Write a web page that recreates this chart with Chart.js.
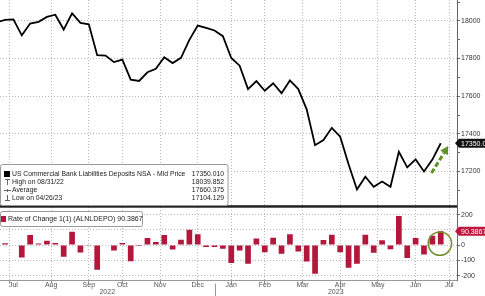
<!DOCTYPE html>
<html>
<head>
<meta charset="utf-8">
<script src="https://cdn.jsdelivr.net/npm/chart.js@4.4.0/dist/chart.umd.min.js"></script>
<style>
  html, body { margin: 0; padding: 0; background: #fff; }
  #wrap { width: 485px; height: 296px; }
</style>
</head>
<body>
<div id="wrap"><canvas id="chart" width="485" height="296"></canvas></div>
<script>
// weekly values, first one is week of 06/29/22 (index -1), last 07/05/23 (index 52)
const firstWeek = -1;
const deposits = [
  17993, 18005, 18008, 17923, 17986, 17995, 18021, 18033, 17954, 18039.852,
  17989, 17982, 17818, 17816, 17781, 17794, 17688, 17681, 17727, 17746,
  17807, 17776, 17804, 17899, 17975, 17963, 17949, 17919, 17803, 17762,
  17638, 17680, 17629, 17669, 17616, 17684, 17638, 17530, 17340, 17367,
  17432, 17385, 17238, 17104.129, 17172, 17119, 17147, 17119, 17305, 17222,
  17265, 17200, 17263, 17350.01,
];
// rate of change starts at index 0
const rateOfChange = [
  12, 4, -81, 66, 11, 28, 13, -77, 88, -48,
  -5, -162, -2, -35, 14, -106, -6, 46, 20, 66,
  -29, 35, 100, 72, -13, -13, -24, -118, -35, -123,
  44, -47, 48, -56, 72, -42, -108, -188, 33, 68,
  -47, -149, -123, 68, -51, 32, -27, 191, -84, 47,
  -61, 61, 90.3867,
];
// last week of each month (gridlines), month names sit between them
const monthEnds = [-1, 3, 8, 12, 16, 21, 25, 29, 33, 38, 42, 47, 51, 55];
const monthLabels = ["Jul", "Aug", "Sep", "Oct", "Nov", "Dec", "Jan", "Feb", "Mar", "Apr", "May", "Jun", "Jul"];
const yearLabels = ["2022", "2023"];
const yearBreak = 25;
const depositTicks = [17100, 17200, 17300, 17400, 17500, 17600, 17700, 17800, 17900, 18000, 18100];
const changeTicks = [-200, -100, 0, 100, 200];

const xMin = -0.6;
const xMax = 53.94;

const lineData = deposits.map((v, i) => ({ x: i + firstWeek, y: v }));
const barData = rateOfChange.map((v, i) => ({ x: i, y: v }));
const lastWeek = deposits.length - 1 + firstWeek;

Chart.defaults.font.family = '"Liberation Sans", Arial, sans-serif';
Chart.defaults.font.size = 7;
Chart.defaults.color = "#333";

const FONT = '6.8px "Liberation Sans", Arial, sans-serif';
const RED = "#b3173b";
const GREEN = "#5f9126";

function valueTag(ctx, x, y, text, bg) {
  ctx.fillStyle = bg;
  ctx.beginPath();
  ctx.moveTo(x - 2, y);
  ctx.lineTo(x + 2, y - 4.5);
  ctx.lineTo(486, y - 4.5);
  ctx.lineTo(486, y + 4.5);
  ctx.lineTo(x + 2, y + 4.5);
  ctx.closePath();
  ctx.fill();
  ctx.fillStyle = "#fff";
  ctx.textAlign = "left";
  ctx.fillText(text, x + 4, y + 0.5);
}

const decor = {
  id: "decor",
  afterDraw(chart) {
    const ctx = chart.ctx;
    const area = chart.chartArea;
    const x = chart.scales.x;
    const y = chart.scales.y;
    const y2 = chart.scales.y2;
    ctx.save();

    // panel separator
    ctx.fillStyle = "#222";
    ctx.fillRect(area.left, y.bottom - 1.5, area.right - area.left, 2.5);

    // year separator under the axis
    const xb = Math.round(x.getPixelForValue(yearBreak)) + 0.5;
    ctx.strokeStyle = "#999";
    ctx.lineWidth = 1;
    ctx.beginPath();
    ctx.moveTo(xb, area.bottom + 3);
    ctx.lineTo(xb, 296);
    ctx.stroke();

    ctx.font = FONT;
    ctx.textBaseline = "middle";

    // top legend
    ctx.fillStyle = "#fff";
    ctx.strokeStyle = "#9a9a9a";
    ctx.beginPath();
    ctx.roundRect(0.5, 164.5, 227.5, 41, 2);
    ctx.fill();
    ctx.stroke();
    ctx.fillStyle = "#000";
    ctx.fillRect(4, 171, 6, 6);
    ctx.strokeStyle = "#666";
    ctx.beginPath();
    ctx.moveTo(7.5, 179); ctx.lineTo(7.5, 185);
    ctx.moveTo(5, 179.5); ctx.lineTo(10, 179.5);
    ctx.moveTo(4, 190.5); ctx.lineTo(11, 190.5);
    ctx.moveTo(7.5, 189); ctx.lineTo(7.5, 192);
    ctx.moveTo(7.5, 195); ctx.lineTo(7.5, 201);
    ctx.moveTo(5, 200.5); ctx.lineTo(10, 200.5);
    ctx.stroke();
    const rows = [
      ["US Commercial Bank Liabilities Deposits NSA - Mid Price", "17350.010", 174],
      ["High on 08/31/22", "18039.852", 182],
      ["Average", "17660.375", 190],
      ["Low on 04/26/23", "17104.129", 198],
    ];
    ctx.fillStyle = "#222";
    rows.forEach(([label, value, ty]) => {
      ctx.textAlign = "left";
      ctx.fillText(label, 12, ty);
      ctx.textAlign = "right";
      ctx.fillText(value, 224, ty);
    });

    // bottom legend
    ctx.fillStyle = "#fff";
    ctx.strokeStyle = "#9a9a9a";
    ctx.beginPath();
    ctx.roundRect(0.5, 211.5, 142, 15, 2);
    ctx.fill();
    ctx.stroke();
    ctx.fillStyle = RED;
    ctx.fillRect(1, 216, 5, 6);
    ctx.fillStyle = "#222";
    ctx.textAlign = "left";
    ctx.font = '7px "Liberation Sans", Arial, sans-serif';
    ctx.fillText("Rate of Change 1(1) (ALNLDEPO) 90.3867", 8, 219.5);

    // last value tags
    const lastY = deposits[deposits.length - 1];
    const lastBar = rateOfChange[rateOfChange.length - 1];
    valueTag(ctx, area.right, y.getPixelForValue(lastY), "17350.0", "#111");
    valueTag(ctx, area.right, y2.getPixelForValue(lastBar), "90.3867", "#c0163d");

    // green dashed arrow
    const ax0 = x.getPixelForValue(50.9), ay0 = y.getPixelForValue(17192);
    const ax1 = x.getPixelForValue(52.9), ay1 = y.getPixelForValue(17335);
    const ang = Math.atan2(ay1 - ay0, ax1 - ax0);
    const head = 8;
    ctx.strokeStyle = GREEN;
    ctx.lineWidth = 3;
    ctx.setLineDash([5, 2.5]);
    ctx.beginPath();
    ctx.moveTo(ax0, ay0);
    ctx.lineTo(ax1 - head * Math.cos(ang), ay1 - head * Math.sin(ang));
    ctx.stroke();
    ctx.setLineDash([]);
    ctx.fillStyle = GREEN;
    ctx.beginPath();
    ctx.moveTo(ax1, ay1);
    ctx.lineTo(ax1 - head * Math.cos(ang) + 4.5 * Math.sin(ang), ay1 - head * Math.sin(ang) - 4.5 * Math.cos(ang));
    ctx.lineTo(ax1 - head * Math.cos(ang) - 4.5 * Math.sin(ang), ay1 - head * Math.sin(ang) + 4.5 * Math.cos(ang));
    ctx.closePath();
    ctx.fill();

    // circle round the last two bars
    ctx.strokeStyle = "#6f8f2a";
    ctx.lineWidth = 1.5;
    ctx.beginPath();
    ctx.arc(x.getPixelForValue(lastWeek - 0.1), y2.getPixelForValue(10), 11.7, 0, Math.PI * 2);
    ctx.stroke();

    ctx.restore();
  },
};

const gridColor = "#b8b8b8";
const noSidePad = (s) => { s.paddingLeft = 0; s.paddingRight = 0; };
const sideAxis = (s) => { s.width = 28; s.paddingTop = 0; s.paddingBottom = 0; };

new Chart(document.getElementById("chart"), {
  type: "line",
  data: {
    datasets: [
      {
        type: "line",
        data: lineData,
        xAxisID: "x",
        yAxisID: "y",
        borderColor: "#000",
        borderWidth: 1.8,
        pointRadius: 0,
        tension: 0,
      },
      {
        type: "bar",
        data: barData,
        xAxisID: "x",
        yAxisID: "y2",
        backgroundColor: RED,
        borderWidth: 0,
        barPercentage: 0.68,
        categoryPercentage: 1,
      },
    ],
  },
  options: {
    responsive: false,
    animation: false,
    events: [],
    devicePixelRatio: 1,
    layout: { padding: 0 },
    plugins: { legend: { display: false }, tooltip: { enabled: false } },
    scales: {
      x: {
        type: "linear",
        position: "bottom",
        weight: 0,
        min: xMin,
        max: xMax,
        offset: false,
        afterBuildTicks: (s) => {
          s.ticks = monthEnds.filter((v) => v > xMin && v < xMax).map((v) => ({ value: v }));
        },
        afterFit: (s) => { s.height = 0; noSidePad(s); },
        ticks: { display: false },
        grid: {
          color: gridColor,
          tickColor: "#888",
          tickLength: 3,
          tickBorderDash: [],
        },
        border: { display: true, color: "#999", dash: [1, 2] },
      },
      xMonth: {
        type: "linear",
        position: "bottom",
        weight: 1,
        min: xMin,
        max: xMax,
        afterBuildTicks: (s) => {
          s.ticks = monthLabels.map((_, i) => ({ value: (monthEnds[i] + monthEnds[i + 1]) / 2 }));
        },
        afterFit: noSidePad,
        grid: { display: false, drawTicks: false },
        border: { display: false },
        ticks: {
          padding: 0,
          autoSkip: false,
          maxRotation: 0,
          color: "#555",
          font: { size: 7, lineHeight: 1.2 },
          callback: (v, i) => monthLabels[i],
        },
      },
      xYear: {
        type: "linear",
        position: "bottom",
        weight: 2,
        min: xMin,
        max: xMax,
        afterBuildTicks: (s) => {
          s.ticks = [{ value: (xMin + yearBreak) / 2 }, { value: (yearBreak + xMax) / 2 }];
        },
        afterFit: noSidePad,
        grid: { display: false, drawTicks: false },
        border: { display: false },
        ticks: {
          padding: 0,
          autoSkip: false,
          maxRotation: 0,
          color: "#555",
          font: { size: 7, lineHeight: 1 },
          callback: (v, i) => yearLabels[i],
        },
      },
      y: {
        type: "linear",
        position: "right",
        stack: "panels",
        stackWeight: 207,
        min: 17013,
        max: 18111,
        afterBuildTicks: (s) => { s.ticks = depositTicks.map((v) => ({ value: v })); },
        afterFit: sideAxis,
        ticks: {
          autoSkip: false,
          padding: 1,
          callback: (v) => (v % 200 === 0 ? String(v) : ""),
        },
        grid: {
          color: (c) => (c.tick && c.tick.value % 200 === 0 ? gridColor : "rgba(0,0,0,0)"),
          tickColor: "#666",
          tickLength: 3,
          tickBorderDash: [],
        },
        border: { display: true, color: "#666", dash: [1, 2] },
      },
      y2: {
        type: "linear",
        position: "right",
        stack: "panels",
        stackWeight: 74,
        min: -233,
        max: 252,
        afterBuildTicks: (s) => { s.ticks = changeTicks.map((v) => ({ value: v })); },
        afterFit: sideAxis,
        ticks: {
          autoSkip: false,
          padding: 1,
          callback: (v) => String(v),
        },
        grid: {
          color: gridColor,
          tickColor: "#666",
          tickLength: 3,
          tickBorderDash: [],
        },
        border: { display: true, color: "#666", dash: [1, 2] },
      },
    },
  },
  plugins: [decor],
});
</script>
</body>
</html>
